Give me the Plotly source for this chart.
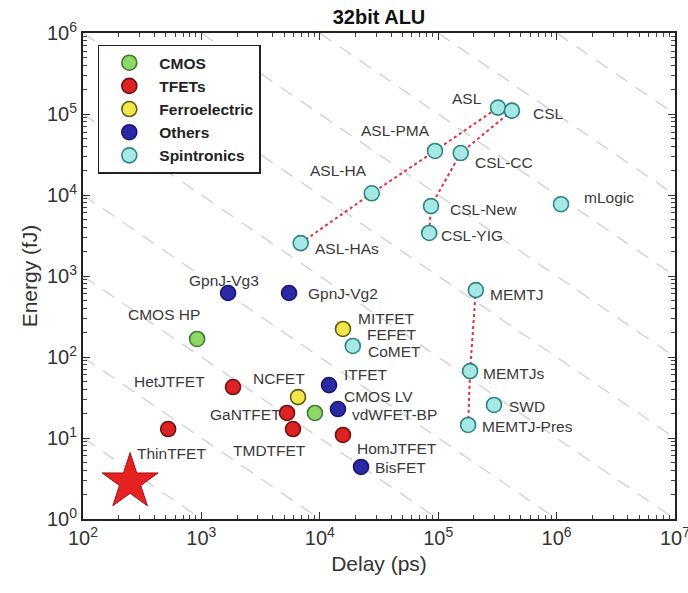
import numpy as np
import plotly.graph_objects as go

# ---- data: delay (ps) and energy (fJ) per device, grouped by technology ----
cmos_names = ["CMOS HP", "CMOS LV"]
cmos_delay = [920, 9100]
cmos_energy = [167, 20.4]

tfet_names = ["ThinTFET", "HetJTFET", "GaNTFET", "TMDTFET", "HomJTFET"]
tfet_delay = [524, 1850, 5290, 5940, 15700]
tfet_energy = [12.9, 42.6, 20.4, 12.9, 10.9]

fe_names = ["NCFET", "MITFET"]
fe_delay = [6550, 15700]
fe_energy = [32, 222]

other_names = ["GpnJ-Vg3", "GpnJ-Vg2", "ITFET", "vdWFET-BP", "BisFET"]
other_delay = [1680, 5500, 11970, 14250, 22300]
other_energy = [617, 617, 45, 22.8, 4.39]

spin_names = ["ASL", "CSL", "ASL-PMA", "CSL-CC", "ASL-HA", "CSL-New", "CSL-YIG",
              "mLogic", "ASL-HAs", "MEMTJ", "MEMTJs", "MEMTJ-Pres", "SWD", "CoMET"]
spin_delay = [3.2e5, 4.2e5, 9.4e4, 1.55e5, 2.75e4, 8.7e4, 8.4e4,
              1.09e6, 6.9e3, 2.08e5, 1.86e5, 1.79e5, 2.96e5, 1.9e4]
spin_energy = [1.2e5, 1.1e5, 3.5e4, 3.3e4, 1.05e4, 7.3e3, 3.4e3,
               7.7e3, 2.55e3, 670, 67, 14.5, 25.6, 137]

# device families joined by dotted lines
chains = [["ASL-HAs", "ASL-HA", "ASL-PMA", "ASL"],
          ["CSL", "CSL-CC", "CSL-New", "CSL-YIG"],
          ["MEMTJ", "MEMTJs", "MEMTJ-Pres"]]

# target point
star_delay = [250]
star_energy = [2.86]

# constant energy-delay product guides, log10(fJ*ps)
edp_exponents = list(range(3, 13))

# axis decades
x_decades = [2, 3, 4, 5, 6, 7]
y_decades = [0, 1, 2, 3, 4, 5, 6]

# ---- styling ----
groups = [
    ("CMOS", cmos_names, cmos_delay, cmos_energy, "#8fd868", "#3c7a2c"),
    ("TFETs", tfet_names, tfet_delay, tfet_energy, "#dc2222", "#6e1010"),
    ("Ferroelectric", fe_names, fe_delay, fe_energy, "#f2e64a", "#5c5a14"),
    ("Others", other_names, other_delay, other_energy, "#2a2aa8", "#17176a"),
    ("Spintronics", spin_names, spin_delay, spin_energy, "#a6e8e4", "#2a8484"),
]

# label placement: (dx, dy) in pixels from the marker (dy downwards), anchor
label_pos = {
    "ASL": (-14, -9, "right"), "CSL": (19, 3, "left"),
    "ASL-PMA": (-3, -20, "right"), "CSL-CC": (12, 9, "left"),
    "ASL-HA": (-3, -23, "right"), "CSL-New": (17, 3, "left"),
    "CSL-YIG": (10, 3, "left"), "mLogic": (21, -7, "left"),
    "MEMTJ": (12, 4, "left"), "ASL-HAs": (12, 5, "left"),
    "GpnJ-Vg3": (-4, -13, "center"), "GpnJ-Vg2": (17, 0, "left"),
    "CMOS HP": (5, -24, "right"), "HetJTFET": (-26, -6, "right"),
    "NCFET": (9, -19, "right"), "GaNTFET": (-4, 2, "right"),
    "ThinTFET": (3, 24, "center"), "TMDTFET": (15, 21, "right"),
    "MITFET": (13, -10, "left"), "CoMET": (13, 6, "left"),
    "ITFET": (13, -11, "left"), "CMOS LV": (27, -16, "left"),
    "vdWFET-BP": (12, 5, "left"), "HomJTFET": (12, 14, "left"),
    "BisFET": (12, 1, "left"), "MEMTJs": (11, 2, "left"),
    "SWD": (13, 2, "left"), "MEMTJ-Pres": (12, 2, "left"),
}
# second label sharing the MITFET marker
extra_labels = [("FEFET", "MITFET", 22, 6, "left")]

FONT = "Liberation Sans, Arial, sans-serif"
LABEL_COLOR = "#3a3a3a"
LABEL_SIZE = 15.5

fig = go.Figure()

# dashed guide lines E*D = const, clipped to the axis ranges
xmin, xmax, ymin, ymax = 2, 7, 0, 6
for n in edp_exponents:
    lx0 = max(xmin, n - ymax)
    lx1 = min(xmax, n - ymin)
    if lx1 <= lx0:
        continue
    xs = np.array([lx0, lx1])
    fig.add_trace(go.Scatter(
        x=10 ** xs, y=10 ** (n - xs), mode="lines",
        line=dict(color="#cdcdcd", width=1.2, dash="14px,10px"),
        hoverinfo="skip", showlegend=False))

# lookup of every device position
pos = {}
for _, names, d, e, _, _ in groups:
    for nm, dv, ev in zip(names, d, e):
        pos[nm] = (dv, ev)

# dotted connectors
for chain in chains:
    fig.add_trace(go.Scatter(
        x=[pos[c][0] for c in chain], y=[pos[c][1] for c in chain],
        mode="lines", line=dict(color="#e0303a", width=2, dash="dot"),
        hoverinfo="skip", showlegend=False))

# device markers
for gname, names, d, e, fill, edge in groups:
    fig.add_trace(go.Scatter(
        x=d, y=e, mode="markers", name=gname, text=names,
        legendgroup=gname,
        marker=dict(size=15, color=fill, line=dict(color=edge, width=1.6)),
        hovertemplate="%{text}<br>%{x} ps, %{y} fJ<extra></extra>"))

# star marker
fig.add_trace(go.Scatter(
    x=star_delay, y=star_energy, mode="markers", showlegend=False,
    marker=dict(symbol="star", size=42, color="#e42222",
                line=dict(color="#a01010", width=1)),
    hoverinfo="skip"))

# device labels
annotations = []
for nm, (dx, dy, anc) in label_pos.items():
    dv, ev = pos[nm]
    annotations.append(dict(
        x=np.log10(dv), y=np.log10(ev), xref="x", yref="y", text=nm,
        showarrow=False, xanchor=anc, yanchor="middle",
        xshift=dx, yshift=-dy,
        font=dict(family=FONT, size=LABEL_SIZE, color=LABEL_COLOR)))
for txt, ref, dx, dy, anc in extra_labels:
    dv, ev = pos[ref]
    annotations.append(dict(
        x=np.log10(dv), y=np.log10(ev), xref="x", yref="y", text=txt,
        showarrow=False, xanchor=anc, yanchor="middle",
        xshift=dx, yshift=-dy,
        font=dict(family=FONT, size=LABEL_SIZE, color=LABEL_COLOR)))


def decade_axis(decades):
    minors = [m * 10 ** k for k in decades[:-1] for m in range(2, 10)]
    return dict(
        type="log", showgrid=False, zeroline=False, automargin=False,
        showline=True, linecolor="#222", linewidth=2, mirror="allticks",
        tickmode="array",
        tickvals=[10 ** k for k in decades],
        ticktext=["10<sup>%d</sup>" % k for k in decades],
        ticklabeloverflow="allow",
        ticks="inside", ticklen=7, tickwidth=1.3, tickcolor="#333",
        minor=dict(tickmode="array", tickvals=minors, ticks="inside",
                   ticklen=4, tickwidth=1, tickcolor="#444", showgrid=False),
        tickfont=dict(family=FONT, size=20, color="#333"),
    )


fig.update_layout(
    width=688, height=593,
    margin=dict(l=83, r=13, t=33, b=74, autoexpand=False),
    paper_bgcolor="white", plot_bgcolor="white",
    title=dict(text="<b>32bit ALU</b>", x=0.5, xref="paper", xanchor="center",
               y=0.971, yanchor="middle", yref="container",
               font=dict(family=FONT, size=20, color="#111")),
    xaxis=dict(decade_axis(x_decades), range=[2, 7.0004],
               title=dict(text="Delay (ps)", standoff=8,
                          font=dict(family=FONT, size=21, color="#333"))),
    yaxis=dict(decade_axis(y_decades), range=[0, 6.0004],
               title=dict(text="Energy (fJ)", standoff=4,
                          font=dict(family=FONT, size=21, color="#333"))),
    legend=dict(x=0.025, y=0.976, xanchor="left", yanchor="top",
                bgcolor="white", bordercolor="#222", borderwidth=1.5,
                font=dict(family=FONT, size=15.5, color="#222", weight="bold"),
                itemwidth=50, tracegroupgap=0),
    annotations=annotations,
    showlegend=True,
)

fig.write_html("out.html")
